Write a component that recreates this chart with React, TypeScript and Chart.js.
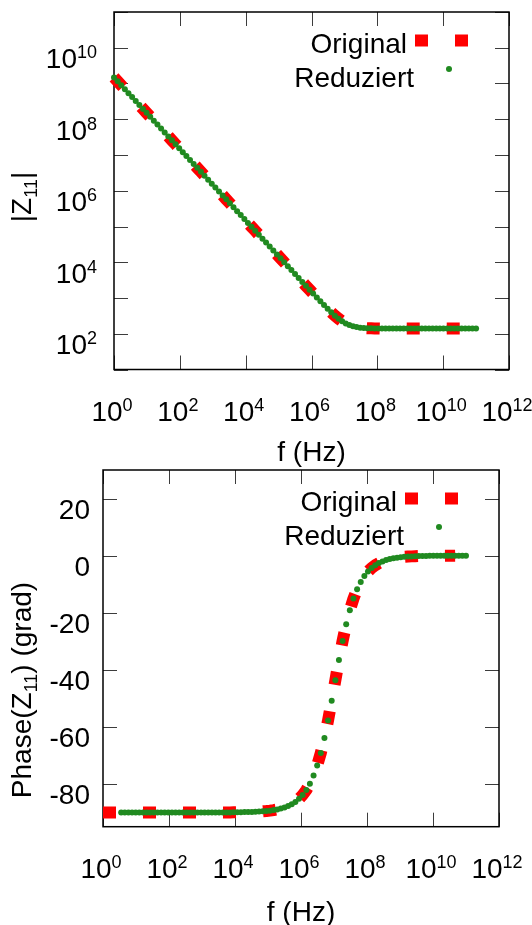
import React, { useEffect, useRef } from "react";
import { Chart, registerables } from "chart.js";

Chart.register(...registerables);

const FONT = '"Liberation Sans", Arimo, Arial, Helvetica, sans-serif';
Chart.defaults.font.family = FONT;

// ---------- data ----------
const frequency = [
  1, 1.29, 1.66, 2.14, 2.75, 3.55, 4.57, 5.89, 7.59, 9.77,
  12.6, 16.2, 20.9, 26.9, 34.7, 44.7, 57.5, 74.1, 95.5, 123,
  158, 204, 263, 339, 437, 562, 724, 933, 1.2e3, 1.55e3,
  2e3, 2.57e3, 3.31e3, 4.27e3, 5.5e3, 7.08e3, 9.12e3, 1.17e4, 1.51e4, 1.95e4,
  2.51e4, 3.24e4, 4.17e4, 5.37e4, 6.92e4, 8.91e4, 1.15e5, 1.48e5, 1.91e5, 2.45e5,
  3.16e5, 4.07e5, 5.25e5, 6.76e5, 8.71e5, 1.12e6, 1.45e6, 1.86e6, 2.4e6, 3.09e6,
  3.98e6, 5.13e6, 6.61e6, 8.51e6, 1.1e7, 1.41e7, 1.82e7, 2.34e7, 3.02e7, 3.89e7,
  5.01e7, 6.46e7, 8.32e7, 1.07e8, 1.38e8, 1.78e8, 2.29e8, 2.95e8, 3.8e8, 4.9e8,
  6.31e8, 8.13e8, 1.05e9, 1.35e9, 1.74e9, 2.24e9, 2.88e9, 3.72e9, 4.79e9, 6.17e9,
  7.94e9, 1.02e10, 1.32e10, 1.7e10, 2.19e10, 2.82e10, 3.63e10, 4.68e10, 6.03e10, 7.76e10,
  1e11,
];

const magnitude = [
  1.48e9, 1.15e9, 8.91e8, 6.92e8, 5.37e8, 4.17e8, 3.24e8, 2.51e8, 1.95e8, 1.51e8,
  1.17e8, 9.12e7, 7.08e7, 5.5e7, 4.27e7, 3.31e7, 2.57e7, 2e7, 1.55e7, 1.2e7,
  9.33e6, 7.24e6, 5.62e6, 4.37e6, 3.39e6, 2.63e6, 2.04e6, 1.58e6, 1.23e6, 9.55e5,
  7.41e5, 5.75e5, 4.47e5, 3.47e5, 2.69e5, 2.09e5, 1.62e5, 1.26e5, 9.77e4, 7.59e4,
  5.89e4, 4.57e4, 3.55e4, 2.75e4, 2.14e4, 1.66e4, 1.29e4, 1e4, 7.76e3, 6.03e3,
  4.68e3, 3.63e3, 2.82e3, 2.19e3, 1.71e3, 1.33e3, 1.03e3, 806, 633, 499,
  397, 320, 264, 223, 194, 175, 162, 154, 148, 145,
  143, 142, 141, 141, 140, 140, 140, 140, 140, 140,
  140, 140, 140, 140, 140, 140, 140, 140, 140, 140,
  140, 140, 140, 140, 140, 140, 140, 140, 140, 140,
  140,
];

const phase = [
  -90, -90, -90, -90, -90, -90, -90, -90, -90, -90,
  -90, -90, -90, -90, -90, -90, -90, -90, -90, -90,
  -90, -90, -90, -90, -90, -90, -90, -90, -90, -90,
  -90, -90, -90, -90, -90, -90, -89.95, -89.94, -89.92, -89.89,
  -89.86, -89.82, -89.77, -89.71, -89.62, -89.51, -89.37, -89.19, -88.96, -88.66,
  -88.27, -87.77, -87.13, -86.31, -85.24, -83.88, -82.14, -79.92, -77.1, -73.56,
  -69.18, -63.91, -57.75, -50.9, -43.68, -36.55, -29.92, -24.07, -19.12, -15.06,
  -11.8, -9.21, -7.18, -5.58, -4.34, -3.37, -2.62, -2.03, -1.58, -1.22,
  -0.95, -0.74, -0.57, -0.44, -0.35, -0.27, -0.21, -0.16, -0.13, -0.1,
  -0.08, -0.06, -0.05, -0.04, -0.03, -0.02, -0.02, -0.01, -0.01, -0.01,
  -0.01,
];

// "Original" is drawn up to ~10^10.7 Hz
const originalFrequency = frequency.slice(0, 98);
const originalMagnitude = magnitude.slice(0, 98);
const originalPhase = phase.slice(0, 98);

// "Reduziert" in the phase plot: one lone point below 1 Hz, then from ~3.5 Hz
const phaseReduziertFrequency = [0.72, ...frequency.slice(5)];
const phaseReduziertValues = [-90, ...phase.slice(5)];

const seriesNames = ["Original", "Reduziert"];
const freqTickExponents = [0, 2, 4, 6, 8, 10, 12];
const magTickExponents = [1, 2, 3, 4, 5, 6, 7, 8, 9, 10, 11];
const phaseTicks = [20, 0, -20, -40, -60, -80];
const xTitle = "f (Hz)";
const magTitle = [{ t: "|Z" }, { t: "11", sub: true }, { t: "|" }];
const phaseTitle = [{ t: "Phase(Z" }, { t: "11", sub: true }, { t: ") (grad)" }];

const RED = "#ff0000";
const GREEN = "#208a20";
const BASE = `28px ${FONT}`;
const SMALL = `18px ${FONT}`;

// ---------- drawing helpers ----------
function drawPower(ctx: CanvasRenderingContext2D, exp: string, x: number, y: number, align: "center" | "right") {
  ctx.font = BASE;
  const wb = ctx.measureText("10").width;
  ctx.font = SMALL;
  const we = ctx.measureText(exp).width;
  const left = align === "center" ? x - (wb + we) / 2 : x - (wb + we);
  ctx.textAlign = "left";
  ctx.textBaseline = "alphabetic";
  ctx.fillStyle = "#000";
  ctx.font = BASE;
  ctx.fillText("10", left, y);
  ctx.font = SMALL;
  ctx.fillText(exp, left + wb, y - 10);
}

function drawRotatedRich(ctx: CanvasRenderingContext2D, parts: { t: string; sub?: boolean }[], baselineX: number, centerY: number) {
  let total = 0;
  const widths = parts.map((p) => {
    ctx.font = p.sub ? SMALL : BASE;
    const w = ctx.measureText(p.t).width;
    total += w;
    return w;
  });
  ctx.save();
  ctx.translate(baselineX, centerY);
  ctx.rotate(-Math.PI / 2);
  ctx.textAlign = "left";
  ctx.textBaseline = "alphabetic";
  ctx.fillStyle = "#000";
  let x = -total / 2;
  parts.forEach((p, i) => {
    ctx.font = p.sub ? SMALL : BASE;
    ctx.fillText(p.t, x, p.sub ? 6 : 0);
    x += widths[i];
  });
  ctx.restore();
}

const gnuplotLook = {
  id: "gnuplotLook",
  beforeDatasetsDraw(chart: any) {
    const { ctx, chartArea: a } = chart;
    const xs = chart.scales.x;
    const ys = chart.scales.y;
    const L = 14;
    ctx.save();
    ctx.strokeStyle = "#3c3c3c";
    ctx.lineWidth = 1;
    ctx.beginPath();
    xs.ticks.forEach((t: any) => {
      const p = Math.round(xs.getPixelForValue(t.value)) + 0.5;
      ctx.moveTo(p, a.bottom);
      ctx.lineTo(p, a.bottom - L);
      ctx.moveTo(p, a.top);
      ctx.lineTo(p, a.top + L);
    });
    ys.ticks.forEach((t: any) => {
      const p = Math.round(ys.getPixelForValue(t.value)) + 0.5;
      ctx.moveTo(a.left, p);
      ctx.lineTo(a.left + L, p);
      ctx.moveTo(a.right, p);
      ctx.lineTo(a.right - L, p);
    });
    ctx.stroke();
    ctx.strokeStyle = "#000";
    ctx.lineWidth = 1.5;
    ctx.strokeRect(a.left, a.top, a.right - a.left, a.bottom - a.top);
    ctx.restore();
  },
  afterDraw(chart: any, _args: any, opts: any) {
    const { ctx, chartArea: a } = chart;
    const xs = chart.scales.x;
    const ys = chart.scales.y;
    ctx.save();
    // x tick labels
    xs.ticks.forEach((t: any) => {
      const px = xs.getPixelForValue(t.value);
      drawPower(ctx, String(Math.round(Math.log10(t.value))), px - 2, a.bottom + opts.xLabelDy, "center");
    });
    // y tick labels
    ys.ticks.forEach((t: any) => {
      const py = ys.getPixelForValue(t.value);
      const right = a.left - opts.yLabelGap;
      if (opts.logY) {
        const e = Math.round(Math.log10(t.value));
        if (e % 2 === 0) drawPower(ctx, String(e), right, py + 20.5, "right");
      } else {
        ctx.font = BASE;
        ctx.fillStyle = "#000";
        ctx.textAlign = "right";
        ctx.textBaseline = "alphabetic";
        ctx.fillText(String(t.value), right, py + 20);
      }
    });
    // y title
    drawRotatedRich(ctx, opts.yTitle, opts.yTitleX, opts.yTitleY);
    // legend (gnuplot style: text right-justified, sample on its right)
    const rows = [
      { textRight: 102, baseline: 40.5 },
      { textRight: 95, baseline: 75 },
    ];
    chart.data.datasets.forEach((ds: any, i: number) => {
      const r = rows[i];
      ctx.font = BASE;
      ctx.fillStyle = "#000";
      ctx.textAlign = "right";
      ctx.textBaseline = "alphabetic";
      ctx.fillText(ds.label, a.right - r.textRight, a.top + r.baseline);
      if (ds.showLine) {
        ctx.save();
        ctx.strokeStyle = ds.borderColor;
        ctx.lineWidth = ds.borderWidth;
        ctx.lineCap = "butt";
        ctx.setLineDash(ds.borderDash);
        ctx.beginPath();
        ctx.moveTo(a.right - 94, a.top + 28.5);
        ctx.lineTo(a.right - 41, a.top + 28.5);
        ctx.stroke();
        ctx.restore();
      } else {
        ctx.fillStyle = ds.pointBackgroundColor;
        ctx.beginPath();
        ctx.arc(a.right - 60, a.top + 57, ds.pointRadius, 0, Math.PI * 2);
        ctx.fill();
      }
    });
    ctx.restore();
  },
};

function xScale(height: number, titlePad: number) {
  return {
    type: "logarithmic",
    min: 1,
    max: 1e12,
    bounds: "data",
    afterBuildTicks: (s: any) => {
      s.ticks = freqTickExponents.map((e) => ({ value: Math.pow(10, e) }));
    },
    afterFit: (s: any) => {
      s.height = height;
    },
    ticks: { display: false },
    grid: { display: false },
    border: { display: false },
    title: {
      display: true,
      text: xTitle,
      color: "#000",
      font: { size: 28, family: FONT, lineHeight: 1 },
      padding: { top: 0, bottom: titlePad },
    },
  };
}

function datasets(origX: number[], origY: number[], redX: number[], redY: number[]) {
  return [
    {
      label: seriesNames[0],
      data: origX.map((x, i) => ({ x, y: origY[i] })),
      showLine: true,
      borderColor: RED,
      backgroundColor: RED,
      borderWidth: 12,
      borderDash: [13, 27],
      borderCapStyle: "butt",
      borderJoinStyle: "round",
      pointRadius: 0,
      tension: 0,
      order: 2,
      clip: false,
    },
    {
      label: seriesNames[1],
      data: redX.map((x, i) => ({ x, y: redY[i] })),
      showLine: false,
      pointRadius: 3,
      pointBorderWidth: 0,
      pointBackgroundColor: GREEN,
      backgroundColor: GREEN,
      borderColor: GREEN,
      order: 1,
      clip: false,
    },
  ];
}

function magConfig(): any {
  return {
    type: "scatter",
    data: { datasets: datasets(originalFrequency, originalMagnitude, frequency, magnitude) },
    options: {
      responsive: false,
      animation: false,
      events: [],
      layout: { padding: { left: 0, top: 12, right: 23, bottom: 445.5 } },
      plugins: {
        legend: { display: false },
        tooltip: { enabled: false },
        gnuplotLook: { logY: true, xLabelDy: 51.5, yLabelGap: 17, yTitle: magTitle, yTitleX: 31, yTitleY: 197 },
      },
      scales: {
        x: xScale(110, 12.5),
        y: {
          type: "logarithmic",
          min: 10,
          max: 1e11,
          bounds: "data",
          afterBuildTicks: (s: any) => {
            s.ticks = magTickExponents.map((e) => ({ value: Math.pow(10, e) }));
          },
          afterFit: (s: any) => {
            s.width = 114;
          },
          ticks: { display: false },
          grid: { display: false },
          border: { display: false },
        },
      },
    },
    plugins: [gnuplotLook],
  };
}

function phaseConfig(): any {
  return {
    type: "scatter",
    data: { datasets: datasets(originalFrequency, originalPhase, phaseReduziertFrequency, phaseReduziertValues) },
    options: {
      responsive: false,
      animation: false,
      events: [],
      layout: { padding: { left: 0, top: 470, right: 33, bottom: 0 } },
      plugins: {
        legend: { display: false },
        tooltip: { enabled: false },
        gnuplotLook: { logY: false, xLabelDy: 51, yLabelGap: 13, yTitle: phaseTitle, yTitleX: 31, yTitleY: 690 },
      },
      scales: {
        x: xScale(98.3, -2.3),
        y: {
          type: "linear",
          min: -95,
          max: 30,
          bounds: "data",
          afterBuildTicks: (s: any) => {
            s.ticks = phaseTicks.map((v) => ({ value: v }));
          },
          afterFit: (s: any) => {
            s.width = 103;
          },
          ticks: { display: false },
          grid: { display: false },
          border: { display: false },
        },
      },
    },
    plugins: [gnuplotLook],
  };
}

export default function App() {
  const topRef = useRef<HTMLCanvasElement>(null);
  const bottomRef = useRef<HTMLCanvasElement>(null);

  useEffect(() => {
    const c1 = new Chart(topRef.current as HTMLCanvasElement, magConfig());
    const c2 = new Chart(bottomRef.current as HTMLCanvasElement, phaseConfig());
    return () => {
      c1.destroy();
      c2.destroy();
    };
  }, []);

  return (
    <div style={{ position: "absolute", left: 0, top: 0, width: 532, height: 925, overflow: "hidden", background: "#fff" }}>
      <canvas ref={topRef} width={532} height={925} style={{ position: "absolute", left: 0, top: 0 }} />
      <canvas ref={bottomRef} width={532} height={925} style={{ position: "absolute", left: 0, top: 0 }} />
    </div>
  );
}
